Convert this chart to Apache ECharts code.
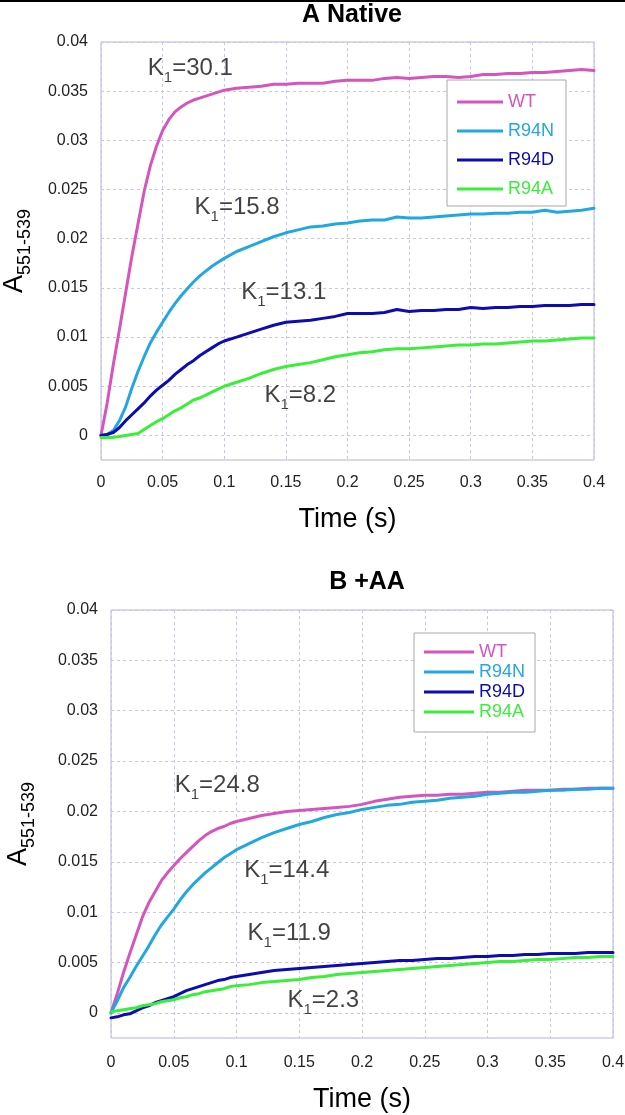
<!DOCTYPE html>
<html>
<head>
<meta charset="utf-8">
<script src="https://cdn.jsdelivr.net/npm/echarts@6/dist/echarts.min.js"></script>
<style>html,body{margin:0;padding:0;background:#fff}#c{width:625px;height:1115px}</style>
</head>
<body>
<div id="c"></div>
<script>
// ---- data ----
var time = [0,0.005,0.01,0.015,0.02,0.025,0.03,0.035,0.04,0.045,0.05,0.055,0.06,0.065,0.07,0.075,0.08,0.085,0.09,0.095,0.1,
  0.11,0.12,0.13,0.14,0.15,0.16,0.17,0.18,0.19,0.2,0.21,0.22,0.23,0.24,0.25,0.26,0.27,0.28,0.29,0.3,0.31,0.32,0.33,0.34,0.35,0.36,0.37,0.38,0.39,0.4];

var seriesNames = ['WT','R94N','R94D','R94A'];

// Panel A: Native
var nativeWT = [0,0.0033,0.0072,0.0108,0.0145,0.0182,0.0215,0.0248,0.0274,0.0294,0.0310,0.0321,0.0329,0.0334,0.0338,0.0341,0.0343,0.0345,0.0347,0.0349,0.0351,
  0.0353,0.0354,0.0355,0.0357,0.0357,0.0358,0.0358,0.0358,0.0360,0.0361,0.0361,0.0361,0.0363,0.0364,0.0363,0.0364,0.0365,0.0365,0.0364,0.0365,0.0367,0.0367,0.0368,0.0368,0.0369,0.0369,0.0370,0.0371,0.0372,0.0371];
var nativeR94N = [0,0.0001,0.0005,0.0015,0.0029,0.0048,0.0065,0.0080,0.0094,0.0105,0.0115,0.0125,0.0134,0.0142,0.0149,0.0156,0.0162,0.0167,0.0172,0.0176,0.0180,
  0.0187,0.0192,0.0197,0.0202,0.0206,0.0209,0.0212,0.0213,0.0215,0.0216,0.0218,0.0219,0.0219,0.0222,0.0221,0.0221,0.0222,0.0223,0.0224,0.0225,0.0225,0.0226,0.0226,0.0227,0.0227,0.0229,0.0227,0.0228,0.0229,0.0231];
var nativeR94D = [0,0.0001,0.0003,0.0008,0.0015,0.0021,0.0027,0.0033,0.0040,0.0046,0.0051,0.0056,0.0062,0.0067,0.0072,0.0076,0.0081,0.0085,0.0089,0.0093,0.0096,
  0.0100,0.0104,0.0108,0.0112,0.0115,0.0116,0.0117,0.0119,0.0121,0.0124,0.0124,0.0124,0.0125,0.0128,0.0126,0.0127,0.0127,0.0128,0.0128,0.0130,0.0129,0.0130,0.0130,0.0131,0.0131,0.0132,0.0132,0.0132,0.0133,0.0133];
var nativeR94A = [-0.0002,-0.0002,-0.0002,-0.0001,0.0000,0.0001,0.0002,0.0006,0.0010,0.0014,0.0017,0.0021,0.0025,0.0028,0.0032,0.0036,0.0038,0.0041,0.0044,0.0047,0.0050,
  0.0054,0.0058,0.0063,0.0067,0.0070,0.0072,0.0074,0.0077,0.0080,0.0082,0.0084,0.0085,0.0087,0.0088,0.0088,0.0089,0.0090,0.0091,0.0092,0.0092,0.0093,0.0093,0.0094,0.0095,0.0096,0.0096,0.0097,0.0098,0.0099,0.0099];

// Panel B: +AA
var aaWT = [0,0.0019,0.0040,0.0059,0.0077,0.0095,0.0109,0.0120,0.0131,0.0139,0.0146,0.0153,0.0159,0.0165,0.0171,0.0176,0.0180,0.0183,0.0185,0.0188,0.0190,
  0.0193,0.0196,0.0198,0.0200,0.0201,0.0202,0.0203,0.0204,0.0205,0.0207,0.0210,0.0212,0.0214,0.0215,0.0216,0.0216,0.0217,0.0217,0.0218,0.0219,0.0219,0.0220,0.0221,0.0221,0.0221,0.0222,0.0222,0.0223,0.0223,0.0223];
var aaR94N = [0,0.0012,0.0025,0.0035,0.0046,0.0056,0.0066,0.0077,0.0087,0.0095,0.0103,0.0112,0.0120,0.0127,0.0133,0.0139,0.0144,0.0149,0.0154,0.0158,0.0162,
  0.0168,0.0174,0.0179,0.0183,0.0187,0.0190,0.0194,0.0197,0.0199,0.0202,0.0204,0.0206,0.0207,0.0209,0.0210,0.0211,0.0213,0.0214,0.0215,0.0217,0.0218,0.0219,0.0219,0.0220,0.0221,0.0221,0.0222,0.0222,0.0223,0.0223];
var aaR94D = [-0.0005,-0.0004,-0.0002,-0.0001,0.0002,0.0005,0.0007,0.0010,0.0012,0.0014,0.0016,0.0019,0.0022,0.0024,0.0026,0.0028,0.0030,0.0032,0.0033,0.0035,0.0036,
  0.0038,0.0040,0.0042,0.0043,0.0044,0.0045,0.0046,0.0047,0.0048,0.0049,0.0050,0.0051,0.0052,0.0052,0.0053,0.0054,0.0054,0.0055,0.0056,0.0056,0.0057,0.0057,0.0058,0.0058,0.0059,0.0059,0.0059,0.0060,0.0060,0.0060];
var aaR94A = [0.0001,0.0002,0.0003,0.0004,0.0005,0.0007,0.0008,0.0009,0.0011,0.0012,0.0013,0.0015,0.0016,0.0018,0.0019,0.0021,0.0022,0.0023,0.0024,0.0026,0.0027,
  0.0028,0.0030,0.0031,0.0032,0.0033,0.0035,0.0036,0.0038,0.0039,0.0040,0.0041,0.0042,0.0043,0.0044,0.0045,0.0046,0.0047,0.0048,0.0049,0.0050,0.0051,0.0051,0.0052,0.0053,0.0053,0.0054,0.0055,0.0055,0.0056,0.0056];

// K1 annotations: [time, value, text]
var kLabelsA = [[0.0384,0.0371,'30.1'],[0.0763,0.0229,'15.8'],[0.1142,0.0143,'13.1'],[0.1330,0.0038,'8.2']];
var kLabelsB = [[0.0512,0.0223,'24.8'],[0.1065,0.0139,'14.4'],[0.1092,0.0076,'11.9'],[0.1410,0.0010,'2.3']];

var xTicks = {min:0, max:0.4, interval:0.05};
var yTicks = {min:-0.0025, max:0.04, labelStep:0.005};

// ---- styles ----
var colors = {WT:'#d455bd', R94N:'#22a7e0', R94D:'#0c0cb0', R94A:'#3aee3a'};
var FONT = '"Liberation Sans", Arial, sans-serif';
var gridLineColor = '#c6c6e6';

function pairs(arr){ return time.map(function(t,i){ return [t, arr[i]]; }); }

function xAxisFor(gi, margin, nameGap){
  return {
    type:'value', gridIndex:gi, min:xTicks.min, max:xTicks.max, interval:xTicks.interval,
    name:'Time (s)', nameLocation:'middle', nameGap:nameGap,
    nameTextStyle:{fontFamily:FONT, fontSize:27, color:'#000'},
    axisLine:{show:false}, axisTick:{show:false},
    axisLabel:{fontFamily:FONT, fontSize:16, color:'#222', margin:margin,
      formatter:function(v){ return String(+v.toFixed(3)); }},
    splitLine:{show:true, lineStyle:{color:gridLineColor, type:[3,3], width:1}}
  };
}
function yAxisFor(gi, nameGap){
  return {
    type:'value', gridIndex:gi, min:yTicks.min, max:yTicks.max, interval:yTicks.labelStep/2,
    name:'{a|A}{s|551-539}', nameLocation:'middle', nameGap:nameGap, nameRotate:90,
    nameTextStyle:{fontFamily:FONT, color:'#000',
      rich:{a:{fontFamily:FONT, fontSize:27, color:'#000', verticalAlign:'bottom', padding:[0,0,6,0]},
            s:{fontFamily:FONT, fontSize:18, color:'#000', verticalAlign:'bottom'}}},
    axisLine:{show:false}, axisTick:{show:false},
    axisLabel:{fontFamily:FONT, fontSize:16, color:'#222', margin:13,
      formatter:function(v){
        var k = Math.round(v/(yTicks.labelStep/2));
        if (k % 2 !== 0) return '';
        return String(+v.toFixed(4));
      }},
    splitLine:{show:true, lineStyle:{color:['rgba(0,0,0,0)', gridLineColor], type:[3,3], width:1}}
  };
}
function lineSeries(name, data, gi){
  return {type:'line', name:name, xAxisIndex:gi, yAxisIndex:gi, data:pairs(data),
    symbol:'none', showSymbol:false, smooth:false, silent:true, animation:false,
    lineStyle:{color:colors[name], width:3, join:'round', cap:'round'}, itemStyle:{color:colors[name]}};
}
function kSeries(labels, gi){
  return {type:'scatter', name:'K', xAxisIndex:gi, yAxisIndex:gi, data:labels,
    symbolSize:1, itemStyle:{color:'rgba(0,0,0,0)'}, silent:true, animation:false, z:5,
    label:{show:true, position:'right', distance:0, offset:[-1,0],
      formatter:function(p){ return '{k|K}{s|1}{k|=' + p.data[2] + '}'; },
      rich:{k:{fontFamily:FONT, fontSize:24, color:'#111', verticalAlign:'bottom', padding:[0,0,5,0]},
            s:{fontFamily:FONT, fontSize:15, color:'#111', verticalAlign:'bottom'}}}};
}
function legendFor(left, top, itemW, rowH, gap, padding, fs){
  return {orient:'vertical', left:left, top:top, itemWidth:itemW, itemHeight:3, itemGap:gap,
    icon:'rect', padding:padding, borderColor:'#a8a8a8', borderWidth:1, backgroundColor:'#fff',
    selectedMode:false,
    data:seriesNames.map(function(n){ return {name:n, icon:'rect', textStyle:{color:colors[n]}}; }),
    textStyle:{fontFamily:FONT, fontSize:fs, lineHeight:rowH}};
}

var option = {
  animation:false,
  backgroundColor:'#fff',
  title:[
    {text:'A Native', left:347, top:-2, textAlign:'center', textStyle:{fontFamily:FONT, fontSize:25, fontWeight:'bold', color:'#000'}},
    {text:'B +AA', left:362, top:565, textAlign:'center', textStyle:{fontFamily:FONT, fontSize:25, fontWeight:'bold', color:'#000'}}
  ],
  graphic:[{type:'rect', left:0, top:0, shape:{width:625, height:2}, style:{fill:'#000'}}],
  grid:[
    {left:101, top:42, width:493, height:418, show:true, borderColor:'#b4b4dc', borderWidth:1, backgroundColor:'#fff', containLabel:false, outerBoundsMode:'none'},
    {left:111, top:610, width:502, height:428, show:true, borderColor:'#b4b4dc', borderWidth:1, backgroundColor:'#fff', containLabel:false, outerBoundsMode:'none'}
  ],
  legend:[
    legendFor(447, 80, 46, 20, 9, [12,12,7,10], 18),
    legendFor(414, 633, 50, 18, 2, [10,10,11,10], 18)
  ],
  xAxis:[xAxisFor(0, 15, 46), xAxisFor(1, 17, 48)],
  yAxis:[yAxisFor(0, 67), yAxisFor(1, 73)],
  series:[
    lineSeries('WT', nativeWT, 0), lineSeries('R94N', nativeR94N, 0), lineSeries('R94D', nativeR94D, 0), lineSeries('R94A', nativeR94A, 0),
    kSeries(kLabelsA, 0),
    lineSeries('WT', aaWT, 1), lineSeries('R94N', aaR94N, 1), lineSeries('R94D', aaR94D, 1), lineSeries('R94A', aaR94A, 1),
    kSeries(kLabelsB, 1)
  ]
};
var chart = echarts.init(document.getElementById('c'), null, {renderer:'canvas'});
chart.setOption(option);
</script>
</body>
</html>
